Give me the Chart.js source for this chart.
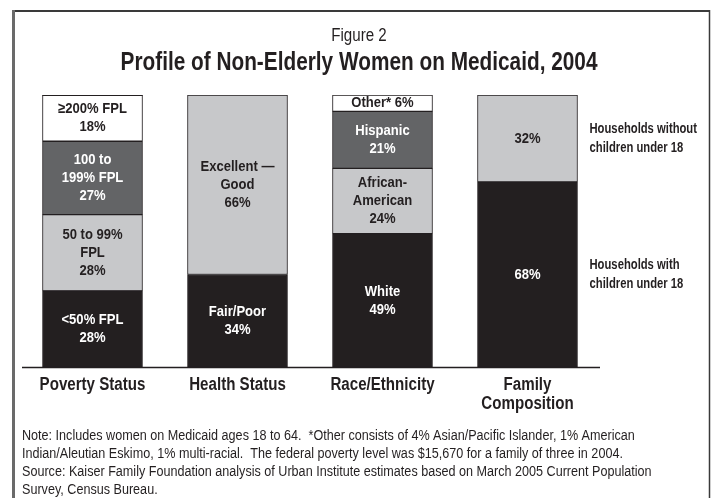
<!DOCTYPE html>
<html>
<head>
<meta charset="utf-8">
<script src="https://cdn.jsdelivr.net/npm/chart.js@4/dist/chart.umd.min.js"></script>
<style>
  html, body { margin: 0; padding: 0; background: #fff; }
  #chart { display: block; }
</style>
</head>
<body>
<canvas id="chart" width="717" height="498"></canvas>
<script>
// categories along the bottom
const categories = [["Poverty Status"], ["Health Status"], ["Race/Ethnicity"], ["Family", "Composition"]];

// stacked shares (%), bottom segment first
const level1 = [28, 34, 49, 68];
const level2 = [28, 66, 24, 32];
const level3 = [27, null, 21, null];
const level4 = [18, null, 6, null];

// names written inside each segment (value is appended)
const names1 = [["<50% FPL"], ["Fair/Poor"], ["White"], []];
const names2 = [["50 to 99%", "FPL"], ["Excellent \u2014", "Good"], ["African-", "American"], []];
const names3 = [["100 to", "199% FPL"], null, ["Hispanic"], null];
const names4 = [["\u2265200% FPL"], null, ["Other*"], null];

// labels to the right of the last bar
const sideLabels = [["Households with", "children under 18"], ["Households without", "children under 18"]];

const titleTop = "Figure 2";
const titleMain = "Profile of Non-Elderly Women on Medicaid, 2004";
const noteLines = [
  "Note: Includes women on Medicaid ages 18 to 64.  *Other consists of 4% Asian/Pacific Islander, 1% American",
  "Indian/Aleutian Eskimo, 1% multi-racial.  The federal poverty level was $15,670 for a family of three in 2004.",
  "Source: Kaiser Family Foundation analysis of Urban Institute estimates based on March 2005 Current Population",
  "Survey, Census Bureau."
];

const FONT = '"Liberation Sans", Arial, sans-serif';
const INK = "#231f20";
const BLACK = "#231f20";
const DARK = "#636466";
const LIGHT = "#c7c8ca";
const WHITE = "#ffffff";

// condensed text: draw with a horizontal squeeze
function text(c, str, x, y, font, squeeze, align) {
  c.save();
  c.font = font;
  c.textBaseline = "middle";
  c.textAlign = "left";
  const w = c.measureText(str).width * squeeze;
  let x0 = x;
  if (align === "center") x0 = x - w / 2;
  else if (align === "right") x0 = x - w;
  c.translate(x0, y);
  c.scale(squeeze, 1);
  c.fillText(str, 0, 0);
  c.restore();
}

function seg(data, names, color, textColor) {
  return {
    data: data,
    names: names,
    textColor: textColor,
    backgroundColor: color,
    borderColor: INK,
    borderWidth: 1,
    borderSkipped: false,
    barThickness: 100
  };
}

const figurePlugin = {
  id: "figure",
  beforeDraw(chart) {
    const c = chart.ctx;
    c.save();
    c.fillStyle = "#fff";
    c.fillRect(0, 0, chart.width, chart.height);
    // frame
    c.strokeStyle = "#3a3a3a";
    c.lineWidth = 2;
    c.beginPath(); c.moveTo(12, 11); c.lineTo(710, 11); c.stroke();
    c.lineWidth = 1.5;
    c.beginPath(); c.moveTo(709.5, 10); c.lineTo(709.5, 498); c.stroke();
    c.strokeStyle = "#6a6a6a";
    c.lineWidth = 3;
    c.beginPath(); c.moveTo(13.5, 10); c.lineTo(13.5, 498); c.stroke();
    // titles
    c.fillStyle = INK;
    text(c, titleTop, 359, 36, "18px " + FONT, 0.84, "center");
    text(c, titleMain, 359, 63, "bold 26px " + FONT, 0.8, "center");
    // notes
    noteLines.forEach((t, i) => text(c, t, 22, 436 + i * 18, "14px " + FONT, 0.9, "left"));
    c.restore();
  },
  afterDatasetsDraw(chart) {
    const c = chart.ctx;
    const area = chart.chartArea;
    const lh = 18;
    c.save();
    // baseline
    c.strokeStyle = INK;
    c.lineWidth = 1.5;
    c.beginPath(); c.moveTo(22, area.bottom + 0.5); c.lineTo(area.right, area.bottom + 0.5); c.stroke();

    chart.data.datasets.forEach((ds, di) => {
      const meta = chart.getDatasetMeta(di);
      meta.data.forEach((el, i) => {
        const v = ds.data[i];
        if (v == null) return;
        const top = Math.max(el.y, area.top);
        const half = el.width / 2;
        if (el.y < area.top) {
          c.strokeStyle = INK;
          c.lineWidth = 1;
          c.beginPath(); c.moveTo(el.x - half, area.top + 0.5); c.lineTo(el.x + half, area.top + 0.5); c.stroke();
        }
        let lines = (ds.names[i] || []).concat([v + "%"]);
        const h = el.base - top;
        if (lines.length * lh > h + 4) lines = [lines.join(" ")];
        const mid = (top + el.base) / 2;
        c.fillStyle = ds.textColor;
        lines.forEach((t, k) => text(c, t, el.x, mid + (k - (lines.length - 1) / 2) * lh, "bold 15px " + FONT, 0.87, "center"));
      });
    });

    // side labels beside the last bar
    const last = categories.length - 1;
    sideLabels.forEach((lines, di) => {
      const el = chart.getDatasetMeta(di).data[last];
      const mid = (Math.max(el.y, area.top) + el.base) / 2;
      c.fillStyle = INK;
      lines.forEach((t, k) => text(c, t, el.x + el.width / 2 + 12, mid + (k - (lines.length - 1) / 2) * 19, "bold 15px " + FONT, 0.75, "left"));
    });

    // category labels
    const xs = chart.scales.x;
    categories.forEach((lines, i) => {
      const x = xs.getPixelForValue(i);
      c.fillStyle = INK;
      lines.forEach((t, k) => text(c, t, x, area.bottom + 18 + k * 19, "bold 18px " + FONT, 0.84, "center"));
    });
    c.restore();
  }
};

const ctx = document.getElementById("chart").getContext("2d");
const chart = new Chart(ctx, {
  type: "bar",
  data: {
    labels: categories,
    datasets: [
      seg(level1, names1, BLACK, "#ffffff"),
      seg(level2, names2, LIGHT, INK),
      seg(level3, names3, DARK, "#ffffff"),
      seg(level4, names4, WHITE, INK)
    ]
  },
  options: {
    responsive: false,
    animation: false,
    layout: { padding: { left: 20, right: 117, top: 95, bottom: 131 } },
    plugins: {
      legend: { display: false },
      tooltip: { enabled: false }
    },
    scales: {
      x: { stacked: true, display: false },
      y: { stacked: true, display: false, min: 0, max: 100 }
    }
  },
  plugins: [figurePlugin]
});
</script>
</body>
</html>
